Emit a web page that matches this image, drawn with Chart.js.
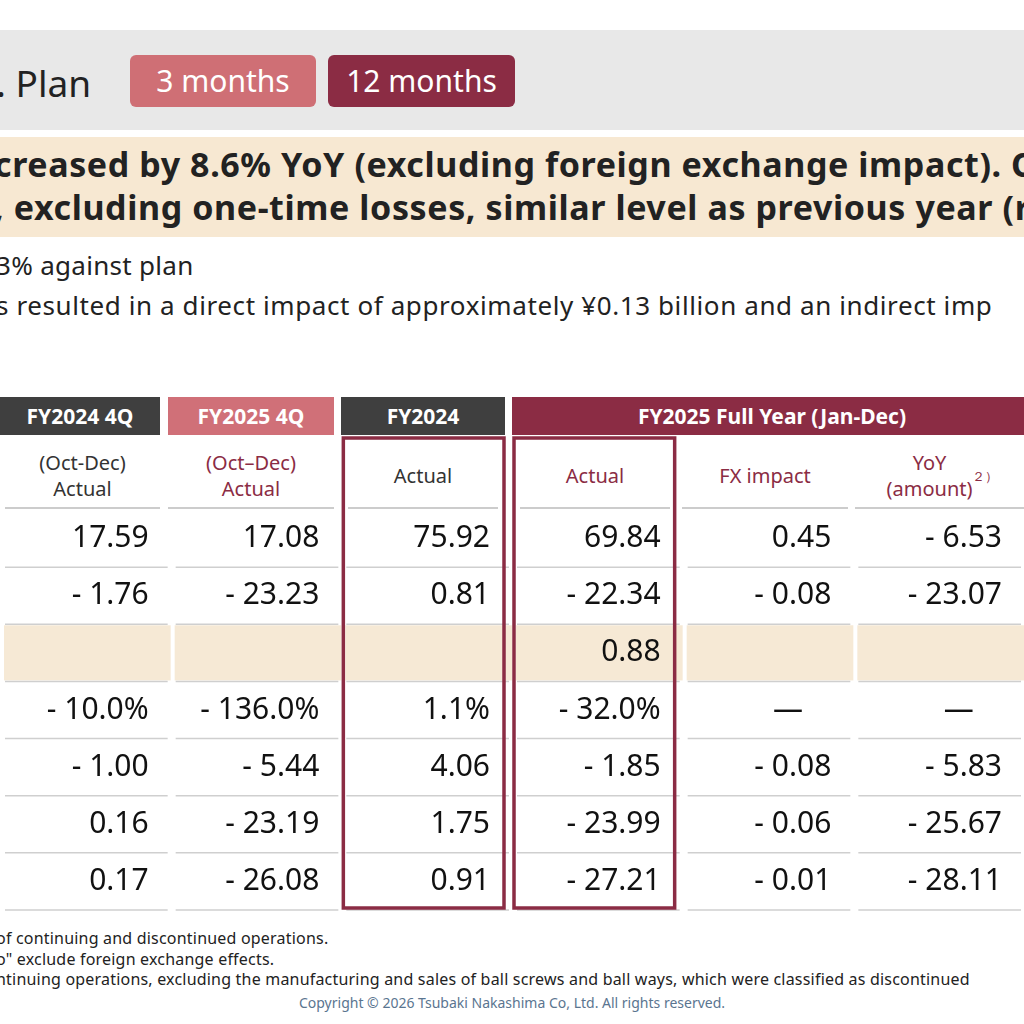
<!DOCTYPE html>
<html><head><meta charset="utf-8">
<script src="https://cdn.jsdelivr.net/npm/chart.js@4/dist/chart.umd.min.js"></script>
<style>
body{margin:0;width:1024px;height:1024px;overflow:hidden;background:#fff;font-family:"Noto Sans",sans-serif;color:#222;position:relative}
.abs{position:absolute;white-space:nowrap}
.btn{position:absolute;top:55px;height:52px;border-radius:6px;color:#fff;font-size:30px;line-height:52px;text-align:center}
.hd{position:absolute;top:397px;height:38px;color:#fff;font-size:21px;font-weight:bold;line-height:38px;text-align:center}
.sub{position:absolute;top:445px;height:62px;font-size:20px;line-height:26px;text-align:center;display:flex;align-items:center;justify-content:center;border-bottom:2px solid #ccc}
</style></head><body>
<div class="abs" style="left:0;top:30px;width:1024px;height:100px;background:#e8e8e8"></div>
<div class="abs" style="left:-4px;top:57px;font-size:37px;">. Plan</div>
<div class="btn" style="left:130px;width:186px;background:#cf6f75">3 months</div>
<div class="btn" style="left:328px;width:187px;background:#8b2c44">12 months</div>
<div class="abs" style="left:0;top:137px;width:1024px;height:100px;background:#f7e8d2"></div>
<div class="abs" style="left:-6px;top:141px;font-size:34px;font-weight:bold;letter-spacing:0.6px">creased by 8.6% YoY (excluding foreign exchange impact). O</div>
<div class="abs" style="left:-6px;top:184px;font-size:34px;font-weight:bold;letter-spacing:0.6px">, excluding one-time losses, similar level as previous year (re</div>
<div class="abs" style="left:-4px;top:247px;font-size:26px;letter-spacing:0.3px">3% against plan</div>
<div class="abs" style="left:-4px;top:287px;font-size:26px;letter-spacing:0.6px">s resulted in a direct impact of approximately ¥0.13 billion and an indirect imp</div>
<div class="hd" style="left:0;width:160px;background:#3f3f3f">FY2024 4Q</div>
<div class="hd" style="left:168px;width:166px;background:#d07078">FY2025 4Q</div>
<div class="hd" style="left:341px;width:164px;background:#3f3f3f">FY2024</div>
<div class="hd" style="left:512px;width:520px;background:#8b2c44">FY2025 Full Year (Jan-Dec)</div>
<div class="sub" style="left:5px;width:155px;color:#333">(Oct-Dec)<br>Actual</div>
<div class="sub" style="left:168px;width:166px;color:#8b2c44">(Oct–Dec)<br>Actual</div>
<div class="sub" style="left:348px;width:150px;color:#333">Actual</div>
<div class="sub" style="left:520px;width:150px;color:#8b2c44">Actual</div>
<div class="sub" style="left:682px;width:166px;color:#8b2c44">FX impact</div>
<div class="sub" style="left:855px;width:175px;color:#8b2c44">YoY<br>(amount)<sup style="font-size:13px">２）</sup></div>
<div class="abs" style="left:0;top:434px;width:1024px;height:478px"><canvas id="tbl"></canvas></div>
<div class="abs" style="left:-4px;top:927px;font-size:16px;letter-spacing:0.2px"> of continuing and discontinued operations.</div>
<div class="abs" style="left:-4px;top:948px;font-size:16px;letter-spacing:0.2px">o" exclude foreign exchange effects.</div>
<div class="abs" style="left:-4px;top:968px;font-size:16px;letter-spacing:0.2px">ntinuing operations, excluding the manufacturing and sales of ball screws and ball ways, which were classified as discontinued</div>
<div class="abs" style="left:0;top:993px;width:1024px;text-align:center;font-size:14px;color:#5a7590">Copyright © 2026 Tsubaki Nakashima Co, Ltd. All rights reserved.</div>
<script>
const columns = ['FY2024 4Q', 'FY2025 4Q', 'FY2024', 'FY2025', 'FX impact', 'YoY'];
const rows = ['r1', 'r2', 'r3', 'r4', 'r5', 'r6', 'r7'];
const fy2024q4 = ['17.59', '- 1.76', '', '- 10.0%', '- 1.00', '0.16', '0.17'];
const fy2025q4 = ['17.08', '- 23.23', '', '- 136.0%', '- 5.44', '- 23.19', '- 26.08'];
const fy2024 = ['75.92', '0.81', '', '1.1%', '4.06', '1.75', '0.91'];
const fy2025 = ['69.84', '- 22.34', '0.88', '- 32.0%', '- 1.85', '- 23.99', '- 27.21'];
const fxImpact = ['0.45', '- 0.08', '', '—', '- 0.08', '- 0.06', '- 0.01'];
const yoy = ['- 6.53', '- 23.07', '', '—', '- 5.83', '- 25.67', '- 28.11'];
const cells = [fy2024q4, fy2025q4, fy2024, fy2025, fxImpact, yoy];
const highlightRow = 2;

const tablePlugin = {
    id: 'tablePlugin',
    beforeDatasetsDraw(chart) {
        const { ctx, chartArea, scales: { x, y } } = chart;
        const cw = x.getPixelForValue(1) - x.getPixelForValue(0);
        const rh = y.getPixelForValue(1) - y.getPixelForValue(0);
        ctx.save();
        const hy = y.getPixelForValue(highlightRow);
        ctx.fillStyle = '#f6e9d5';
        columns.forEach((c, ci) => {
            const cx = x.getPixelForValue(ci);
            ctx.fillRect(cx - cw / 2 + 4, hy - rh / 2 + 1, cw - 4, rh - 2);
        });
        ctx.font = '30px "Noto Sans"';
        ctx.textBaseline = 'middle';
        rows.forEach((r, ri) => {
            const cy = y.getPixelForValue(ri);
            columns.forEach((c, ci) => {
                const cx = x.getPixelForValue(ci);
                ctx.strokeStyle = '#cfcfcf';
                ctx.lineWidth = 1.5;
                ctx.beginPath();
                ctx.moveTo(cx - cw / 2 + 5, cy + rh / 2);
                ctx.lineTo(cx + cw / 2 - 3, cy + rh / 2);
                ctx.stroke();
                const v = cells[ci][ri];
                ctx.fillStyle = '#111';
                if (v === '—') {
                    ctx.textAlign = 'center';
                    ctx.fillText(v, cx + 20, cy);
                } else {
                    ctx.textAlign = 'right';
                    ctx.fillText(v, cx + cw / 2 - 22, cy);
                }
            });
        });
        // boxed columns
        ctx.strokeStyle = '#8b2c44';
        ctx.lineWidth = 3.5;
        [2, 3].forEach(ci => {
            const cx = x.getPixelForValue(ci);
            ctx.strokeRect(cx - cw / 2 + 2, 4, cw - 10, chartArea.bottom - 6);
        });
        ctx.restore();
    }
};

new Chart(document.getElementById('tbl'), {
    type: 'scatter',
    data: { datasets: [{ data: [], pointRadius: 0 }] },
    options: {
        responsive: true,
        maintainAspectRatio: false,
        animation: false,
        layout: { padding: { top: 76, bottom: 2 } },
        plugins: { legend: { display: false }, tooltip: { enabled: false } },
        scales: {
            x: { type: 'category', labels: columns, offset: true, display: false },
            y: { type: 'category', labels: rows, offset: true, display: false }
        }
    },
    plugins: [tablePlugin]
});
</script>
</body></html>
